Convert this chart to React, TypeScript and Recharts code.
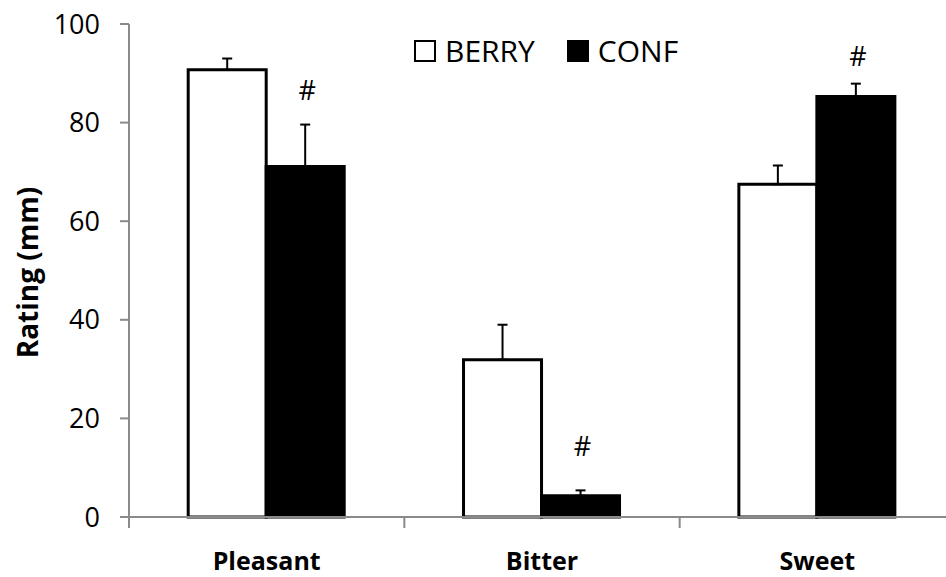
import React from 'react'
import {
  BarChart, Bar, XAxis, YAxis, ErrorBar, LabelList, Legend,
} from 'recharts'

const CATEGORIES = ['Pleasant', 'Bitter', 'Sweet']
const BERRY = [90.7, 31.9, 67.5]
const BERRY_SEM = [2.3, 7.1, 3.8]
const CONF = [71.1, 4.3, 85.3]
const CONF_SEM = [8.5, 1.1, 2.6]
// where the "#" marks sit, in rating units
const SIG = [86.6, 14.3, 93.4]
const Y_TICKS = [0, 20, 40, 60, 80, 100]
const SERIES = [
  { name: 'BERRY', fill: '#ffffff' },
  { name: 'CONF', fill: '#000000' },
]

const FONT = '"Open Sans", Lato, sans-serif'
const AXIS_GREY = '#8a8a8a'

const data = CATEGORIES.map((category, i) => ({
  category,
  berry: BERRY[i],
  berryErr: [0, BERRY_SEM[i]],
  conf: CONF[i],
  confErr: [0, CONF_SEM[i]],
  sig: SIG[i],
}))

function CategoryTick(props: any) {
  const { x, y, payload, index, visibleTicksCount } = props
  const half = payload?.offset ?? 0
  const last = index === visibleTicksCount - 1
  return (
    <g>
      <line x1={x - half} x2={x - half} y1={y} y2={y + 11} stroke={AXIS_GREY} strokeWidth={2} />
      {last && <line x1={x + half} x2={x + half} y1={y} y2={y + 11} stroke={AXIS_GREY} strokeWidth={2} />}
      <text x={x} y={y + 53} textAnchor="middle" fontFamily={FONT} fontSize={25} fontWeight={700} fill="#000">
        {payload.value}
      </text>
    </g>
  )
}

function SigMark(props: any) {
  const { x, y, width, height, value, index } = props
  const base = y + height
  const perUnit = height / CONF[index]
  const cy = base - value * perUnit
  return (
    <text x={x + width / 2 + 2} y={cy} dy="0.36em" textAnchor="middle" fontFamily={FONT} fontSize={27} fill="#000">
      #
    </text>
  )
}

function YTitle(props: any) {
  const vb = props.viewBox
  const cx = vb.x + 27
  const cy = vb.y + vb.height / 2 + 2
  return (
    <text
      x={cx}
      y={cy}
      transform={`rotate(-90, ${cx}, ${cy})`}
      textAnchor="middle"
      dominantBaseline="central"
      fontFamily={FONT}
      fontSize={28}
      fontWeight={700}
      fill="#000"
    >
      Rating (mm)
    </text>
  )
}

function LegendBox() {
  return (
    <div style={{ display: 'flex', alignItems: 'center', fontFamily: FONT, fontSize: 30, lineHeight: 1, color: '#000' }}>
      {SERIES.map((s, i) => (
        <React.Fragment key={s.name}>
          <span
            style={{
              display: 'inline-block',
              boxSizing: 'border-box',
              width: 22,
              height: 22,
              border: '2.5px solid #000',
              background: s.fill,
              marginLeft: i === 0 ? 0 : 32,
              marginRight: 9,
            }}
          />
          <span>{s.name}</span>
        </React.Fragment>
      ))}
    </div>
  )
}

export default function App() {
  return (
    <div style={{ position: 'absolute', left: 0, top: 0, width: 946, height: 577, overflow: 'hidden', background: '#fff' }}>
      <BarChart
        width={955}
        height={577}
        data={data}
        margin={{ top: 24, right: 0, bottom: 0, left: 0 }}
        barCategoryGap="21.5%"
        barGap={0}
      >
        <XAxis
          dataKey="category"
          height={60}
          axisLine={{ stroke: AXIS_GREY, strokeWidth: 2 }}
          tickLine={false}
          tickSize={0}
          tickMargin={0}
          tick={<CategoryTick />}
          interval={0}
        />
        <YAxis
          width={129}
          domain={[0, 100]}
          ticks={Y_TICKS}
          axisLine={{ stroke: AXIS_GREY, strokeWidth: 2 }}
          tickLine={{ stroke: AXIS_GREY, strokeWidth: 2 }}
          tickSize={9}
          tickMargin={20}
          tick={{ fontSize: 27, fill: '#000', fontFamily: FONT }}
          label={<YTitle />}
        />
        <Legend
          layout="vertical"
          align="center"
          verticalAlign="middle"
          wrapperStyle={{ top: 36, left: 414, width: 400 }}
          content={<LegendBox />}
        />
        <Bar dataKey="berry" name="BERRY" fill="#ffffff" stroke="#000" strokeWidth={3} isAnimationActive={false}>
          <ErrorBar dataKey="berryErr" width={5} stroke="#000" strokeWidth={2} direction="y" isAnimationActive={false} />
        </Bar>
        <Bar dataKey="conf" name="CONF" fill="#000000" stroke="#000" strokeWidth={3} isAnimationActive={false}>
          <ErrorBar dataKey="confErr" width={5} stroke="#000" strokeWidth={2} direction="y" isAnimationActive={false} />
          <LabelList dataKey="sig" content={<SigMark />} />
        </Bar>
      </BarChart>
    </div>
  )
}
